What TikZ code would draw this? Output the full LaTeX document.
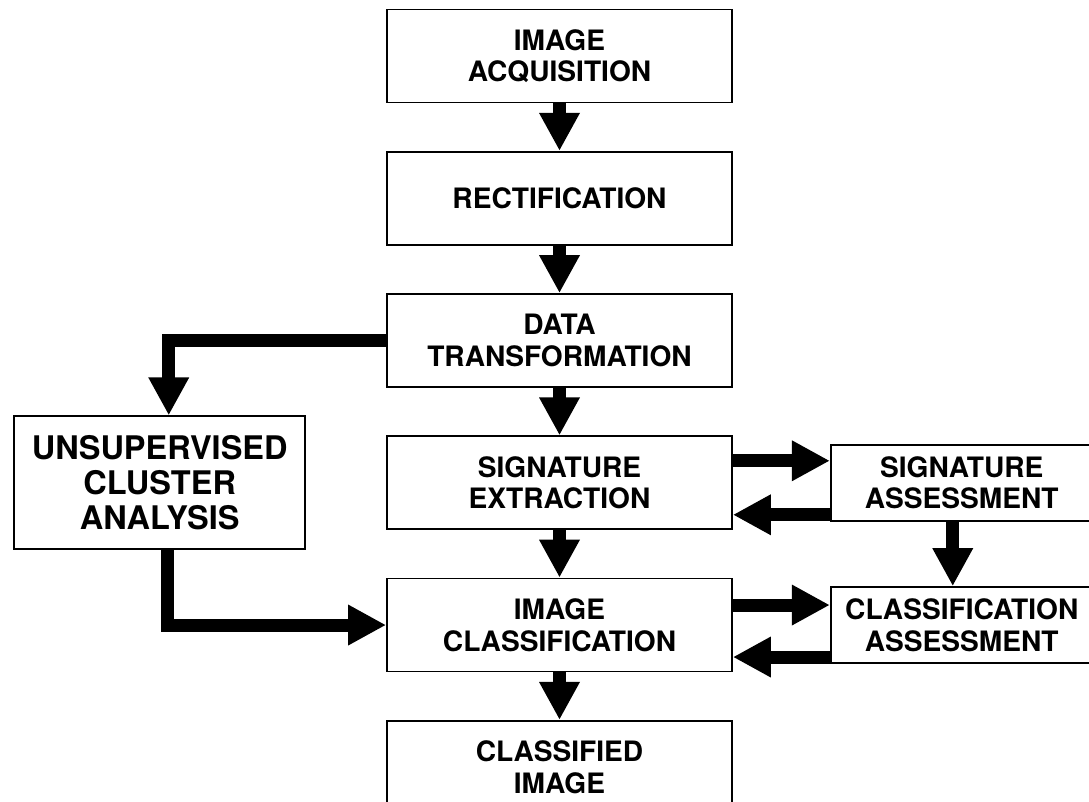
\documentclass[tikz,border=0pt]{standalone}
\usepackage{fontspec}
\setmainfont{TeX Gyre Heros}
\usepackage{tikz}
\usetikzlibrary{arrows.meta, positioning}
\tikzstyle{stagebox} = [rectangle, minimum width=6.9cm, minimum height=1.86cm, text centered, align=center, draw=black, line width=1pt, font=\fontsize{16}{18}\selectfont\bfseries]
\tikzstyle{assessbox} = [stagebox, minimum width=5.24cm, minimum height=1.52cm]
\tikzstyle{clusterbox} = [stagebox, minimum width=5.82cm, minimum height=2.66cm, font=\fontsize{18.5}{20}\selectfont\bfseries]
\tikzstyle{arrow} = [line width=0.26cm, -{Triangle[width=0.76cm,length=0.76cm]}]

\begin{document}
\begin{tikzpicture}[node distance=0.95cm]
\useasboundingbox (0,0) rectangle (21.78,-16.04);

\node (acq) [stagebox] at (11.19,-1.12) {IMAGE\\ACQUISITION};
\node (rect) [stagebox, below=of acq] {RECTIFICATION};
\node (trans) [stagebox, below=of rect] {DATA\\TRANSFORMATION};
\node (sigext) [stagebox, below=of trans] {SIGNATURE\\EXTRACTION};
\node (imgcls) [stagebox, below=of sigext] {IMAGE\\CLASSIFICATION};
\node (clsimg) [stagebox, below=of imgcls] {CLASSIFIED\\IMAGE};
\node (cluster) [clusterbox, left=1.6cm of sigext] {UNSUPERVISED\\CLUSTER\\ANALYSIS};
\node (sigass) [assessbox, right=1.94cm of sigext] {SIGNATURE\\ASSESSMENT};
\node (clsass) [assessbox, right=1.94cm of imgcls] {CLASSIFICATION\\ASSESSMENT};

\draw [arrow] (acq) -- (rect);
\draw [arrow] (rect) -- (trans);
\draw [arrow] (trans) -- (sigext);
\draw [arrow] (sigext) -- (imgcls);
\draw [arrow] (imgcls) -- (clsimg);
\draw [arrow] (trans.west) -| ([xshift=0.18cm]cluster.north);
\draw [arrow] ([xshift=0.16cm]cluster.south) |- (imgcls.west);
\draw [arrow] ([yshift=0.44cm]sigext.east) -- ([yshift=0.44cm]sigass.west);
\draw [arrow] ([yshift=-0.64cm]sigass.west) -- ([yshift=-0.64cm]sigext.east);
\draw [arrow] ([xshift=-0.18cm]sigass.south) -- ([xshift=-0.18cm]clsass.north);
\draw [arrow] ([yshift=0.4cm]imgcls.east) -- ([yshift=0.4cm]clsass.west);
\draw [arrow] ([yshift=-0.64cm]clsass.west) -- ([yshift=-0.64cm]imgcls.east);

\end{tikzpicture}
\end{document}
